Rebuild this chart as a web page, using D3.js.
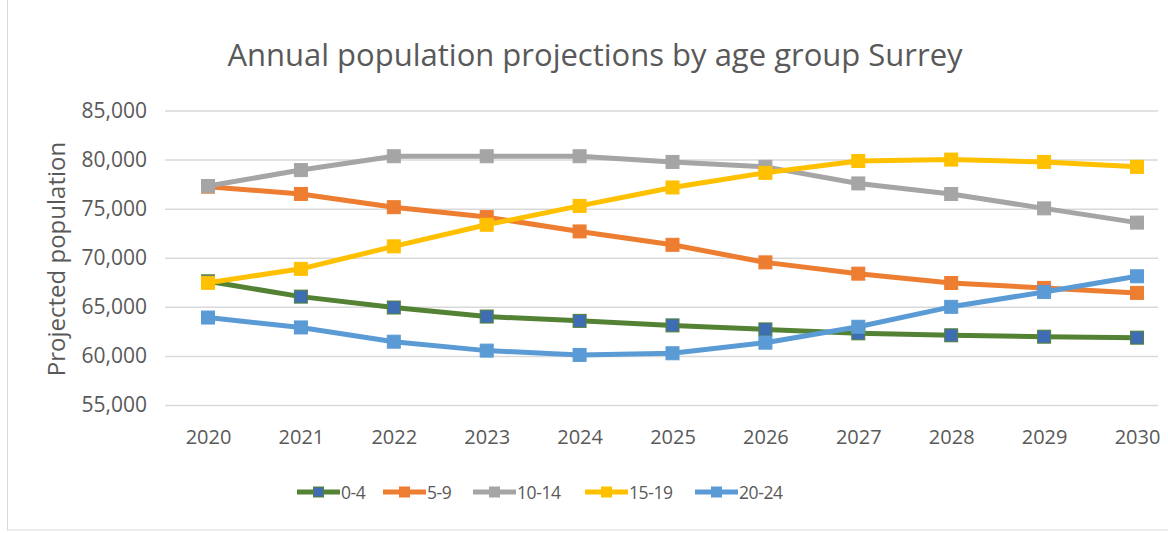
<!DOCTYPE html>
<html lang="en">
<head>
    <meta charset="UTF-8">
    <title>Annual population projections by age group Surrey</title>
    <script src="https://cdn.jsdelivr.net/npm/d3@7"></script>
    <style>
        body { margin: 0; background: #fff; }
        text { font-family: "Open Sans", "Noto Sans", sans-serif; fill: #595959; }
    </style>
</head>
<body>
    <div class="chart"></div>
<script>
    // data
    const years = ['2020', '2021', '2022', '2023', '2024', '2025', '2026', '2027', '2028', '2029', '2030']
    const groups = ['0-4', '5-9', '10-14', '15-19', '20-24']
    const age0_4   = [67600, 66040, 64930, 64010, 63570, 63110, 62700, 62300, 62100, 61960, 61860]
    const age5_9   = [77240, 76500, 75150, 74140, 72680, 71320, 69530, 68380, 67430, 66930, 66420]
    const age10_14 = [77310, 78930, 80340, 80340, 80340, 79760, 79260, 77570, 76490, 75030, 73580]
    const age15_19 = [67450, 68870, 71160, 73360, 75280, 77160, 78650, 79860, 80000, 79760, 79260]
    const age20_24 = [63910, 62900, 61450, 60540, 60100, 60270, 61350, 62970, 65000, 66520, 68110]
    const yTicks = [55000, 60000, 65000, 70000, 75000, 80000, 85000]

    const series = [age0_4, age5_9, age10_14, age15_19, age20_24]
    const lineColors = ['#548235', '#ed7d31', '#a5a5a5', '#ffc000', '#5b9bd5']
    const markerColors = ['#3e6db3', '#ed7d31', '#a5a5a5', '#ffc000', '#5b9bd5']

    const width = 1168
    const height = 533
    const plot = { left: 165, right: 1158, top: 110.5, bottom: 405 }

    const svg = d3.select('.chart')
        .append('svg')
        .attr('width', width)
        .attr('height', height)

    // chart frame
    svg.append('rect')
        .attr('x', 7.5).attr('y', -2)
        .attr('width', width).attr('height', 532)
        .attr('fill', 'none')
        .attr('stroke', '#d9d9d9')

    const xScale = d3.scalePoint().domain(years).range([208, 1137])
    const yScale = d3.scaleLinear().domain([55000, 85000]).range([plot.bottom, plot.top])

    // gridlines + y labels
    const yAxis = d3.axisLeft(yScale)
        .tickValues(yTicks)
        .tickFormat(d3.format(','))
        .tickSize(-(plot.right - plot.left))
        .tickPadding(18)
    const gy = svg.append('g')
        .attr('transform', `translate(${plot.left}, 0)`)
        .call(yAxis)
    gy.select('.domain').remove()
    gy.selectAll('line').attr('stroke', '#d9d9d9').attr('stroke-width', 1.5)
    gy.selectAll('text').attr('font-size', '21px').style('fill', '#595959')

    // x labels
    const xAxis = d3.axisBottom(xScale).tickSize(0).tickPadding(25)
    const gx = svg.append('g')
        .attr('transform', `translate(0, ${plot.bottom})`)
        .call(xAxis)
    gx.select('.domain').remove()
    gx.selectAll('text').attr('font-size', '20px').style('fill', '#595959')

    // title
    svg.append('text')
        .attr('x', 595).attr('y', 66)
        .attr('text-anchor', 'middle')
        .attr('font-size', '31px')
        .text('Annual population projections by age group Surrey')

    svg.append('text')
        .attr('transform', 'translate(65, 259) rotate(-90)')
        .attr('text-anchor', 'middle')
        .attr('font-size', '24px')
        .text('Projected population')

    // lines
    const linePath = d3.line()
        .x((d, i) => xScale(years[i]))
        .y(d => yScale(d))

    series.forEach((vals, s) => {
        svg.append('path')
            .attr('d', linePath(vals))
            .attr('fill', 'none')
            .attr('stroke', lineColors[s])
            .attr('stroke-width', 5)
            .attr('stroke-linejoin', 'round')
        svg.selectAll('.m' + s)
            .data(vals)
            .enter()
            .append('rect')
            .attr('class', 'm' + s)
            .attr('x', (d, i) => xScale(years[i]) - 6.5)
            .attr('y', d => yScale(d) - 6.5)
            .attr('width', 13)
            .attr('height', 13)
            .attr('fill', markerColors[s])
            .attr('stroke', lineColors[s])
            .attr('stroke-width', 1)
    })

    // legend
    const legendX = [297, 383, 473, 585, 695]
    const legendY = 492
    const lg = svg.selectAll('.legend')
        .data(groups)
        .enter()
        .append('g')
        .attr('class', 'legend')
        .attr('transform', (d, i) => `translate(${legendX[i]}, ${legendY})`)
    lg.append('line')
        .attr('x1', 0).attr('x2', 43)
        .attr('stroke', (d, i) => lineColors[i])
        .attr('stroke-width', 5)
    lg.append('rect')
        .attr('x', 16.5).attr('y', -5)
        .attr('width', 10).attr('height', 10)
        .attr('fill', (d, i) => markerColors[i])
        .attr('stroke', (d, i) => lineColors[i])
    lg.append('text')
        .attr('x', 44).attr('y', 6.5)
        .attr('font-size', '17.5px')
        .attr('letter-spacing', '-0.4px')
        .text(d => d)
</script>
</body>
</html>
